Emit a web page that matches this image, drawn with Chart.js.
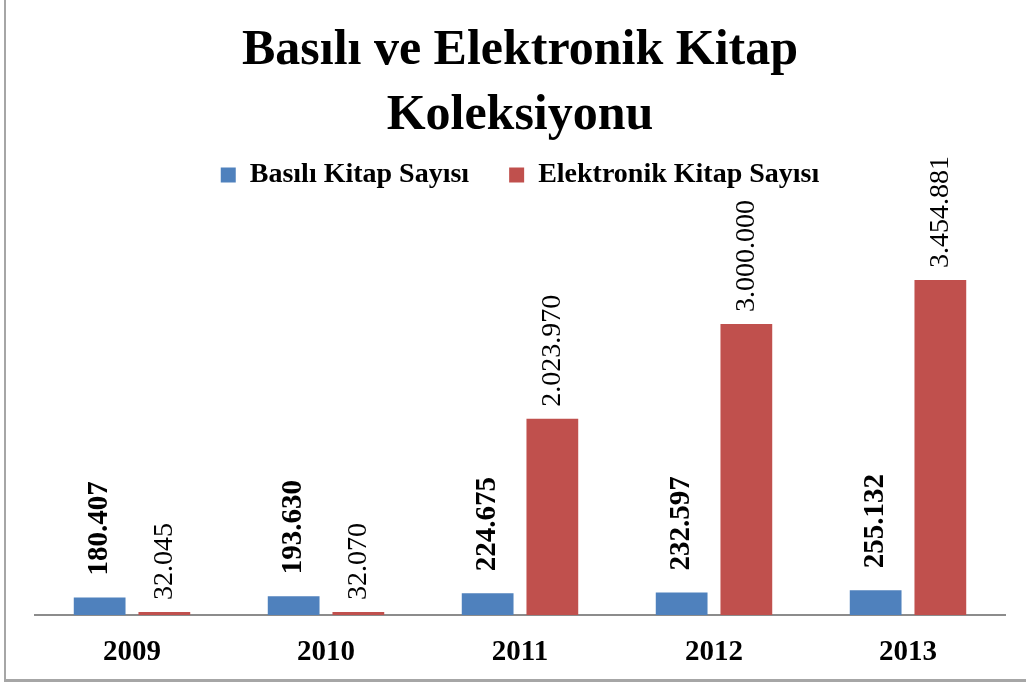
<!DOCTYPE html>
<html>
<head>
<meta charset="utf-8">
<script src="https://cdn.jsdelivr.net/npm/chart.js@4.4.0/dist/chart.umd.min.js"></script>
<style>
  body { margin: 0; background: #fff; }
  #wrap { position: relative; width: 1026px; height: 686px; overflow: hidden; }
  #frame {
    position: absolute; left: 4px; top: -10px; width: 1100px; height: 692px;
    border-left: 2px solid #a6a6a6; border-bottom: 3px solid #a6a6a6;
    box-sizing: border-box; pointer-events: none;
  }
</style>
</head>
<body>
<div id="wrap">
  <canvas id="myChart" width="1026" height="686"></canvas>
  <div id="frame"></div>
</div>
<script>
const years = ["2009", "2010", "2011", "2012", "2013"];
const printedBooks = [180407, 193630, 224675, 232597, 255132];
const ebooks = [32045, 32070, 2023970, 3000000, 3454881];
const titleLines = ["Basılı ve Elektronik Kitap", "Koleksiyonu"];
const seriesNames = ["Basılı Kitap Sayısı", "Elektronik Kitap Sayısı"];

const serif = "'Liberation Serif', 'Times New Roman', serif";

function formatTr(value) {
  return String(value).replace(/\B(?=(\d{3})+(?!\d))/g, ".");
}

// vertical value labels above every bar
const barLabels = {
  id: "barLabels",
  afterDatasetsDraw(chart) {
    const ctx = chart.ctx;
    chart.data.datasets.forEach((ds, i) => {
      const meta = chart.getDatasetMeta(i);
      meta.data.forEach((bar, j) => {
        ctx.save();
        ctx.translate(bar.x, bar.y - ds.labelGap);
        ctx.rotate(-Math.PI / 2);
        ctx.font = ds.labelFont;
        ctx.fillStyle = "#000";
        ctx.textAlign = "left";
        ctx.textBaseline = "middle";
        ctx.fillText(formatTr(ds.data[j]), 0, 0);
        ctx.restore();
      });
    });
  },
};

// extra room between legend and plot
const legendGap = {
  id: "legendGap",
  beforeInit(chart) {
    const fit = chart.legend.fit;
    chart.legend.fit = function () {
      fit.bind(chart.legend)();
      this.height += 28;
    };
  },
};

const ctx = document.getElementById("myChart").getContext("2d");
const myChart = new Chart(ctx, {
  type: "bar",
  data: {
    labels: years,
    datasets: [
      {
        label: seriesNames[0],
        data: printedBooks,
        backgroundColor: "#4f81bd",
        labelFont: "bold 29px " + serif,
        labelGap: 22,
      },
      {
        label: seriesNames[1],
        data: ebooks,
        backgroundColor: "#c0504d",
        labelFont: "28px " + serif,
        labelGap: 12,
      },
    ],
  },
  options: {
    responsive: false,
    animation: false,
    layout: { padding: { left: 35, right: 21, top: 0, bottom: 0 } },
    datasets: {
      bar: { categoryPercentage: 0.667, barPercentage: 0.8 },
    },
    plugins: {
      title: {
        display: true,
        text: titleLines,
        color: "#000",
        font: { family: serif, size: 50, weight: "bold", lineHeight: 1.3 },
        padding: { top: 19, bottom: 0 },
      },
      legend: {
        position: "top",
        labels: {
          color: "#000",
          font: { family: serif, size: 28, weight: "bold" },
          boxWidth: 15,
          boxHeight: 15,
          padding: 12,
          generateLabels(chart) {
            const items = Chart.defaults.plugins.legend.labels.generateLabels(chart);
            // wider gap after the first entry
            items[0].text = items[0].text + "    ";
            return items;
          },
        },
      },
      tooltip: { enabled: false },
    },
    scales: {
      x: {
        grid: { display: false, drawTicks: false },
        border: { display: true, color: "#8c8c8c", width: 2 },
        ticks: {
          color: "#000",
          font: { family: serif, size: 29, weight: "bold" },
          padding: 20,
        },
        afterFit(scale) {
          scale.height = 71;
        },
      },
      y: {
        display: false,
        min: 0,
        max: 4000000,
      },
    },
  },
  plugins: [barLabels, legendGap],
});
</script>
</body>
</html>
